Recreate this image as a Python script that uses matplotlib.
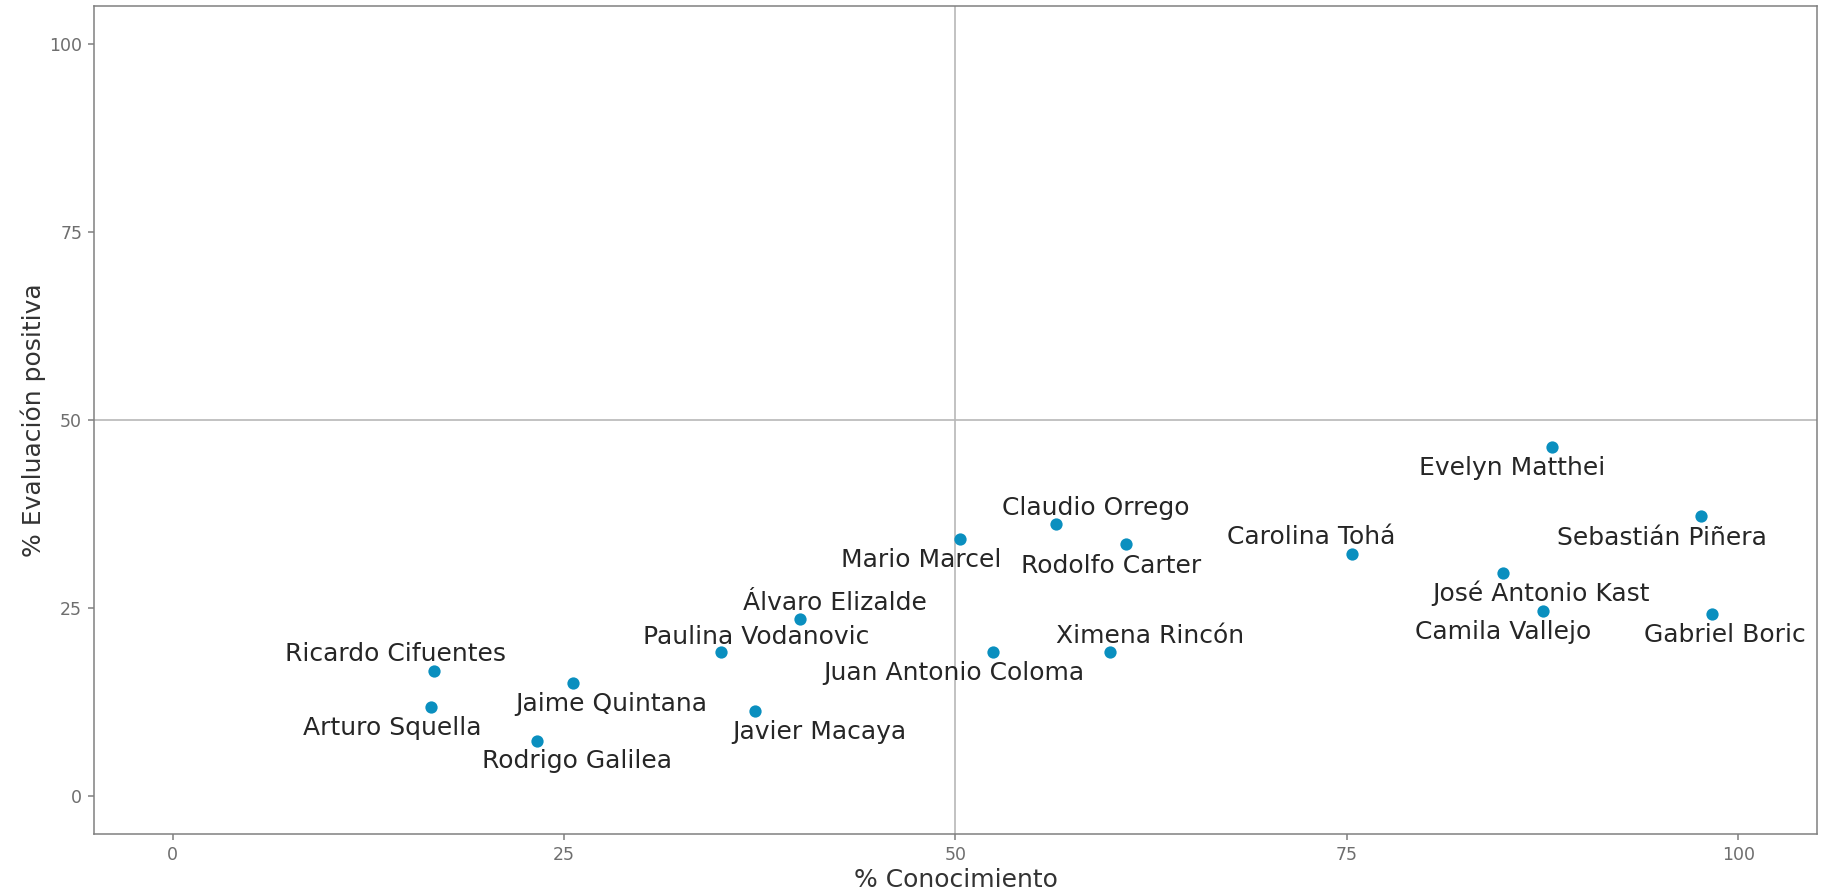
import numpy as np
import matplotlib
matplotlib.use("Agg")
import matplotlib.pyplot as plt

plt.rcParams['font.family'] = ['DejaVu Sans']

# values
nombres = ["Evelyn Matthei", "Sebastián Piñera", "Gabriel Boric", "Camila Vallejo",
           "José Antonio Kast", "Carolina Tohá", "Rodolfo Carter", "Claudio Orrego",
           "Mario Marcel", "Juan Antonio Coloma", "Ximena Rincón", "Álvaro Elizalde",
           "Paulina Vodanovic", "Javier Macaya", "Jaime Quintana", "Rodrigo Galilea",
           "Ricardo Cifuentes", "Arturo Squella"]
conocimiento = [88.1, 97.6, 98.3, 87.5, 85.0, 75.3, 60.9, 56.4, 50.3, 52.4, 59.9,
                40.1, 35.0, 37.2, 25.6, 23.3, 16.7, 16.5]
eval_positiva = [46.4, 37.2, 24.2, 24.6, 29.7, 32.2, 33.5, 36.2, 34.2, 19.2, 19.2,
                 23.5, 19.2, 11.3, 15.0, 7.4, 16.6, 11.9]

# label placement (pixel offsets of the text baseline centre, repel-style)
offsets = [(-40, -28), (-39, -29), (13, -28), (-39, -28), (38, -28), (-40, 10),
           (-15, -29), (40, 9), (-39, -28), (-39, -28), (40, 9), (34, 9),
           (36, 8), (64, -28), (38, -28), (40, -27), (-39, 10), (-39, -28)]

fig = plt.figure(figsize=(18.32, 8.94), dpi=100)
ax = fig.add_axes([0.0515, 0.0671, 0.9401, 0.9262])

ax.axvline(50, color='#b8b8b8', lw=1.2, zorder=1)
ax.axhline(50, color='#b8b8b8', lw=1.2, zorder=1)

ax.scatter(conocimiento, eval_positiva, s=78, color='#0A8FBF', zorder=3, linewidths=0)

for n, x, y, (dx, dy) in zip(nombres, conocimiento, eval_positiva, offsets):
    ax.annotate(n, (x, y), xytext=(dx, dy), textcoords='offset pixels',
                ha='center', va='baseline', fontsize=18, color='#262626', zorder=4)

ax.set_xlim(-5, 105)
ax.set_ylim(-5, 105)
ax.set_xticks([0, 25, 50, 75, 100])
ax.set_yticks([0, 25, 50, 75, 100])
ax.tick_params(colors='#7f7f7f', labelcolor='#6e6e6e', labelsize=12.5,
               length=4.3, width=1.1, pad=4.5)
for s in ax.spines.values():
    s.set_color('#808080')
    s.set_linewidth(1.1)

ax.set_xlabel("% Conocimiento", fontsize=18, color='#333333', labelpad=3)
ax.set_ylabel("% Evaluación positiva", fontsize=18, color='#333333', labelpad=2)

fig.savefig("out.png", dpi=100)
